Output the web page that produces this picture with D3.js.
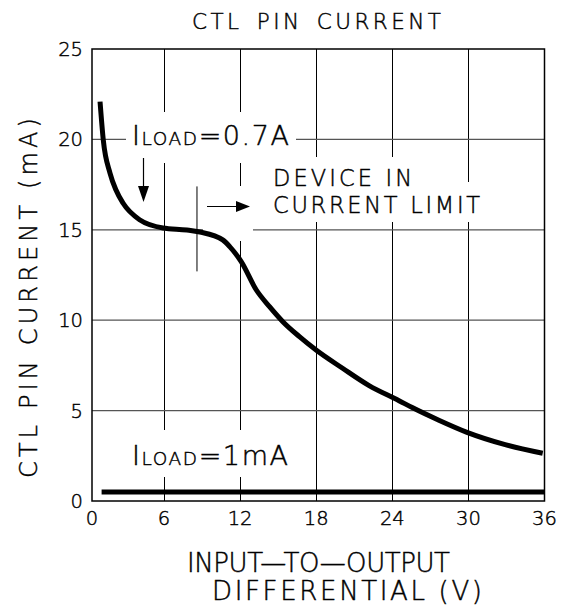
<!DOCTYPE html>
<html><head><meta charset="utf-8">
<script src="https://cdn.jsdelivr.net/npm/d3@7"></script>
<style>
html,body{margin:0;padding:0;background:#fff;}
text{font-family:"DejaVu Sans",sans-serif;font-weight:200;fill:#000;stroke:#000;stroke-width:0.45px;}
</style></head>
<body><svg id="c" width="574" height="609"></svg>
<script>
// ---- data ----
const vDiff07 = [0.67, 0.94, 1.5, 2.0, 2.58, 4.0, 5.92, 7.81, 8.83, 10.63, 11.18, 12.1, 13.28, 14.32, 15.37, 16.68, 17.99, 20.08, 22.17, 24.53, 25.57, 27.67, 29.89, 32.9, 35.86];
const iCtl07  = [22.09, 19.97, 18.14, 17.2, 16.48, 15.54, 15.1, 14.99, 14.88, 14.44, 14.07, 13.23, 11.67, 10.75, 9.92, 9.09, 8.35, 7.34, 6.38, 5.55, 5.17, 4.47, 3.8, 3.12, 2.64];
const vDiff1m = [0.8, 36];
const iCtl1m  = [0.5, 0.5];
const xTicks = [0, 6, 12, 18, 24, 30, 36];
const yTicks = [0, 5, 10, 15, 20, 25];
const currentLimitV = 8.6;
const currentLimitRange = [12.7, 17.4];

const svg = d3.select("#c");
const x = d3.scaleLinear().domain([0, 6, 36]).range([92, 164, 544.5]);
const y = d3.scaleLinear().domain([0, 25]).range([501, 49]);

// gridlines
const g = svg.append("g");
g.selectAll("line.v").data(xTicks.slice(1, -1)).join("line")
  .attr("x1", d => Math.round(x(d)) + 0.5).attr("x2", d => Math.round(x(d)) + 0.5)
  .attr("y1", y(25)).attr("y2", y(0)).attr("stroke", "#000").attr("stroke-width", 1);
g.selectAll("line.h").data(yTicks.slice(1, -1)).join("line")
  .attr("y1", d => y(d)).attr("y2", d => y(d))
  .attr("x1", x(0)).attr("x2", x(36)).attr("stroke", "#555").attr("stroke-width", 1.2);

// knockouts for annotations
const ko = [[126, 112, 170, 51], [203, 186, 50, 55], [268, 157, 152, 40], [268, 182, 218, 40], [128, 430, 168, 47]];
svg.append("g").selectAll("rect").data(ko).join("rect")
  .attr("x", d => d[0]).attr("y", d => d[1]).attr("width", d => d[2]).attr("height", d => d[3]).attr("fill", "#fff");

// current limit marker
svg.append("line").attr("x1", x(currentLimitV)).attr("x2", x(currentLimitV))
  .attr("y1", y(currentLimitRange[1])).attr("y2", y(currentLimitRange[0]))
  .attr("stroke", "#000").attr("stroke-width", 1);

// curves
const line = d3.line().x(d => x(d[0])).y(d => y(d[1])).curve(d3.curveMonotoneX);
svg.append("path").datum(d3.zip(vDiff07, iCtl07)).attr("d", line)
  .attr("fill", "none").attr("stroke", "#000").attr("stroke-width", 5).attr("stroke-linejoin", "round");
svg.append("path").datum(d3.zip(vDiff1m, iCtl1m)).attr("d", d3.line().x(d => x(d[0])).y(d => y(d[1])))
  .attr("fill", "none").attr("stroke", "#000").attr("stroke-width", 5);

// frame
svg.append("rect").attr("x", x(0)).attr("y", y(25)).attr("width", x(36) - x(0)).attr("height", y(0) - y(25))
  .attr("fill", "none").attr("stroke", "#000").attr("stroke-width", 1.5);

// tick labels
svg.append("g").selectAll("text").data(yTicks).join("text")
  .attr("x", 83).attr("y", d => y(d) + 7).attr("text-anchor", "end").attr("font-size", 19.5).text(d => d);
svg.append("g").selectAll("text").data(xTicks).join("text")
  .attr("x", d => x(d)).attr("y", 525).attr("text-anchor", "middle").attr("font-size", 19.5).text(d => d);

// titles
svg.append("text").attr("x", 192).attr("y", 29).attr("font-size", 21.5)
  .attr("textLength", 249).attr("lengthAdjust", "spacing").text("CTL\u2002PIN\u2002CURRENT");
svg.append("text").attr("x", 187).attr("y", 572).attr("font-size", 26)
  .attr("textLength", 263).attr("lengthAdjust", "spacing").text("INPUT\u2014TO\u2014OUTPUT");
svg.append("text").attr("x", 212).attr("y", 600).attr("font-size", 26)
  .attr("textLength", 270).attr("lengthAdjust", "spacing").text("DIFFERENTIAL (V)");
svg.append("text").attr("transform", "translate(37,478) rotate(-90)").attr("font-size", 24)
  .attr("textLength", 360).attr("lengthAdjust", "spacing").text("CTL PIN CURRENT (mA)");

// annotations
function iload(xp, yp, rest, len) {
  const t = svg.append("text").attr("x", xp).attr("y", yp).attr("font-size", 27)
    .attr("textLength", len).attr("lengthAdjust", "spacing");
  t.append("tspan").text("I");
  t.append("tspan").attr("font-size", 18.5).text("LOAD");
  t.append("tspan").text(rest);
}
iload(132, 145, "=0.7A", 157);
iload(132, 465, "=1mA", 156);
svg.append("text").attr("x", 273).attr("y", 186).attr("font-size", 22.5)
  .attr("textLength", 139).attr("lengthAdjust", "spacing").text("DEVICE IN");
svg.append("text").attr("x", 273).attr("y", 213).attr("font-size", 22.5)
  .attr("textLength", 207).attr("lengthAdjust", "spacing").text("CURRENT LIMIT");

// arrows
svg.append("line").attr("x1", 143.5).attr("x2", 143.5).attr("y1", 158).attr("y2", 190).attr("stroke", "#000").attr("stroke-width", 1.2);
svg.append("path").attr("d", "M138,186 L149,186 L143.5,202 Z").attr("fill", "#000");
svg.append("line").attr("x1", 207).attr("x2", 240).attr("y1", 206.5).attr("y2", 206.5).attr("stroke", "#000").attr("stroke-width", 1.2);
svg.append("path").attr("d", "M236,201 L250,206.5 L236,212 Z").attr("fill", "#000");
</script></body></html>
